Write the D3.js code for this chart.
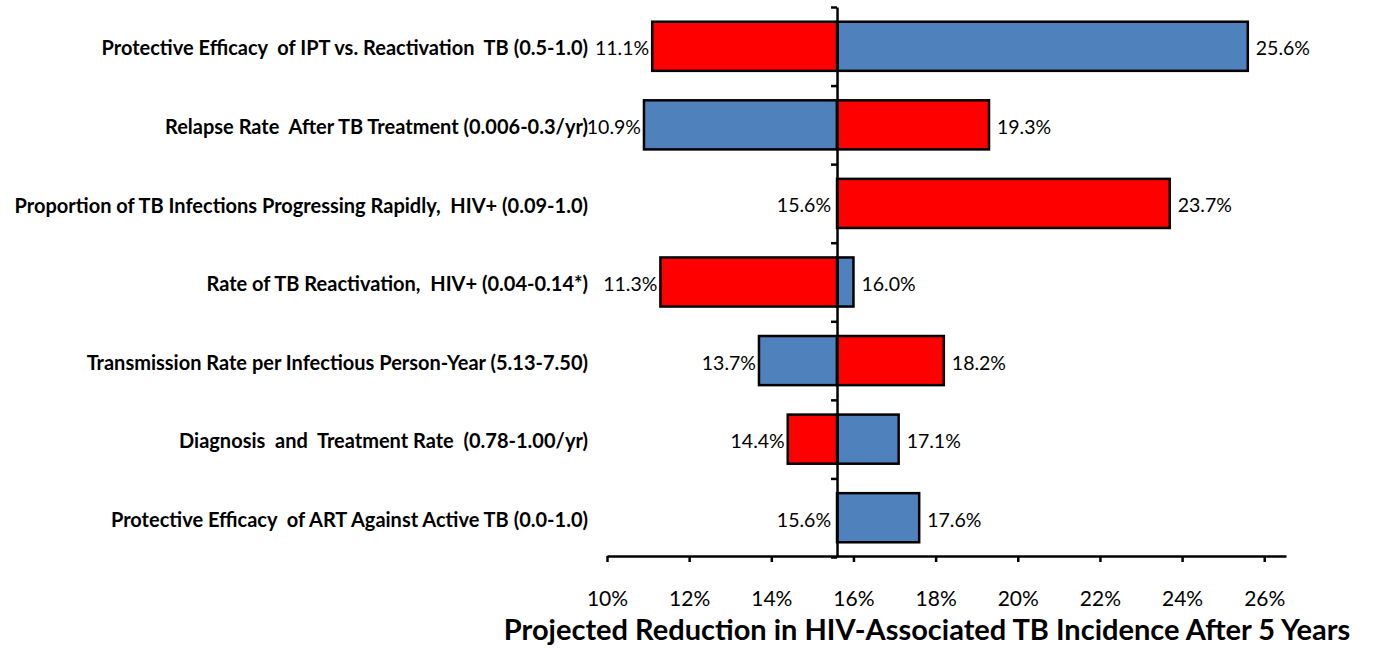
<!DOCTYPE html>
<html>
<head>
<meta charset="utf-8">
<script src="https://cdn.jsdelivr.net/npm/d3@7"></script>
<style>
  body { margin: 0; background: #fff; }
  svg { display: block; font-family: Lato, "Open Sans", sans-serif; }
</style>
</head>
<body>
<div id="chart"></div>
<script>
let width = 1373;
let height = 650;

let categories = [
  "Protective Efficacy  of IPT vs. Reactivation  TB (0.5-1.0)",
  "Relapse Rate  After TB Treatment (0.006-0.3/yr)",
  "Proportion of TB Infections Progressing Rapidly,  HIV+ (0.09-1.0)",
  "Rate of TB Reactivation,  HIV+ (0.04-0.14*)",
  "Transmission Rate per Infectious Person-Year (5.13-7.50)",
  "Diagnosis  and  Treatment Rate  (0.78-1.00/yr)",
  "Protective Efficacy  of ART Against Active TB (0.0-1.0)"
];
// red bars: lower end of parameter range, blue bars: upper end
let lowerBound = [11.1, 19.3, 23.7, 11.3, 18.2, 14.4, 15.6];
let upperBound = [25.6, 10.9, 15.6, 16.0, 13.7, 17.1, 17.6];
let baseline = 15.6;
let xTicks = [10, 12, 14, 16, 18, 20, 22, 24, 26];
let axisTitle = "Projected Reduction in HIV-Associated TB Incidence After 5 Years";

let svg = d3.select("#chart")
  .append("svg")
  .attr("width", width)
  .attr("height", height);

let x = d3.scaleLinear()
  .domain([10, 26.53])
  .range([607, 1286]);

let y = d3.scaleBand()
  .domain(categories)
  .range([7, 557])
  .paddingInner(0.375)
  .paddingOuter(0.1875);

let color = { lower: "#ff0000", upper: "#4f81bd" };

let rows = [];
categories.forEach((c, i) => {
  rows.push({ cat: c, series: "upper", value: upperBound[i] });
  rows.push({ cat: c, series: "lower", value: lowerBound[i] });
});

// bars
svg.append("g")
  .selectAll("rect")
  .data(rows.filter(d => d.value !== baseline))
  .enter()
  .append("rect")
  .attr("x", d => x(Math.min(d.value, baseline)))
  .attr("y", d => y(d.cat))
  .attr("width", d => Math.abs(x(d.value) - x(baseline)))
  .attr("height", y.bandwidth())
  .attr("fill", d => color[d.series])
  .attr("stroke", "#000")
  .attr("stroke-width", 2.5);

// value labels; a value equal to the baseline sits on the left
let isRight = d => d.value > baseline;
svg.append("g")
  .selectAll("text")
  .data(rows)
  .enter()
  .append("text")
  .attr("x", d => isRight(d) ? x(d.value) + 8 : x(d.value) - (d.value === baseline ? 6 : 3))
  .attr("y", d => y(d.cat) + y.bandwidth() / 2 + 2)
  .attr("dy", "0.36em")
  .attr("text-anchor", d => isRight(d) ? "start" : "end")
  .style("font-size", "19.5px")
  .attr("fill", "#000")
  .text(d => d.value.toFixed(1) + "%");

// category labels
svg.append("g")
  .selectAll("text")
  .data(categories)
  .enter()
  .append("text")
  .attr("x", 588)
  .attr("y", d => y(d) + y.bandwidth() / 2 + 2)
  .attr("dy", "0.36em")
  .attr("text-anchor", "end")
  .style("font-size", "20px")
  .style("font-weight", "bold")
  .style("white-space", "pre")
  .attr("fill", "#000")
  .text(d => d);

// vertical axis at baseline with ticks at category boundaries
let yIdx = d3.scaleLinear().domain([0, categories.length]).range([7, 557]);
let yAxis = svg.append("g")
  .attr("transform", `translate(${x(baseline)},0)`)
  .call(d3.axisLeft(yIdx).ticks(categories.length).tickFormat("").tickSizeInner(6).tickSizeOuter(0));
yAxis.selectAll("path, line").attr("stroke", "#000").attr("stroke-width", 2.5);

// bottom axis
let xAxis = svg.append("g")
  .attr("transform", "translate(0,556)")
  .call(d3.axisBottom(x).tickValues(xTicks).tickFormat(d => d + "%").tickSizeInner(6).tickSizeOuter(0).tickPadding(29));
xAxis.selectAll("path, line").attr("stroke", "#000").attr("stroke-width", 2.5);
xAxis.selectAll("text")
  .style("font-family", "Lato, sans-serif")
  .style("font-size", "21px")
  .attr("fill", "#000");

svg.append("text")
  .attr("x", 927)
  .attr("y", 640)
  .attr("text-anchor", "middle")
  .style("font-size", "29px")
  .style("font-weight", "bold")
  .attr("fill", "#000")
  .text(axisTitle);
</script>
</body>
</html>
